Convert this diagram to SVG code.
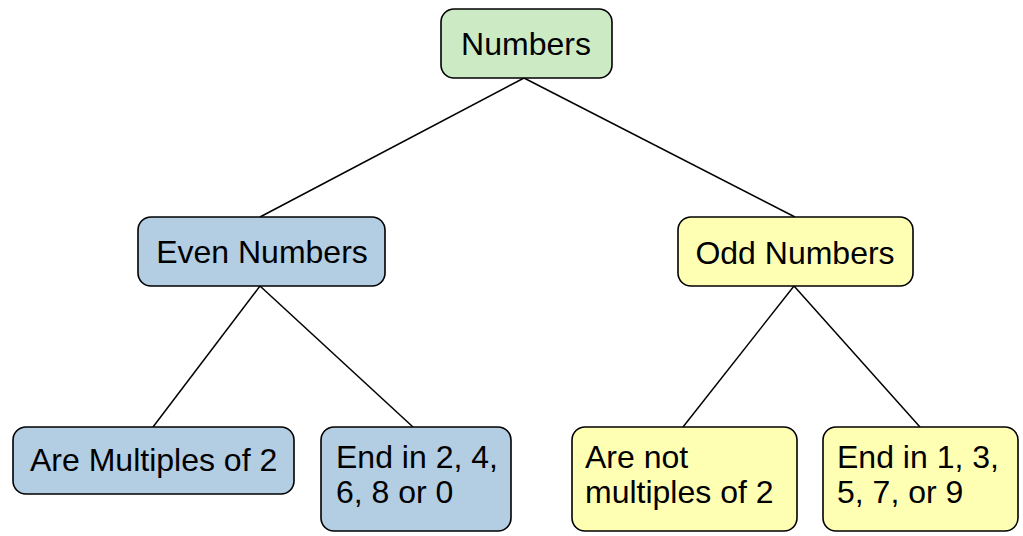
<svg xmlns="http://www.w3.org/2000/svg" width="1023" height="536" viewBox="0 0 1023 536">
<style>
.box{stroke:#000;stroke-width:1.6}
.g{fill:#ccebc5}.b{fill:#b3cde3}.y{fill:#ffffb3}
text{font-family:"Liberation Sans",Arial,sans-serif;font-size:32px;fill:#000}
.c{text-anchor:middle}
.conn line{stroke:#000;stroke-width:1.5}
</style>
<rect width="1023" height="536" fill="#fff"/>
<g class="conn">
<line x1="524" y1="78" x2="260" y2="217"/>
<line x1="524" y1="78" x2="795" y2="217"/>
<line x1="260" y1="286" x2="153" y2="427"/>
<line x1="260" y1="286" x2="413" y2="427"/>
<line x1="794" y1="286" x2="683" y2="427"/>
<line x1="794" y1="286" x2="920" y2="427"/>
</g>
<g id="numbers"><rect class="box g" x="441" y="9" width="171" height="69" rx="13"/><text class="c" x="526" y="55">Numbers</text></g>
<g id="even"><rect class="box b" x="138" y="217" width="247" height="69" rx="13"/><text class="c" x="262" y="263">Even Numbers</text></g>
<g id="odd"><rect class="box y" x="678" y="217" width="235" height="69" rx="13"/><text class="c" x="795" y="264">Odd Numbers</text></g>
<g id="multiples2"><rect class="box b" x="13" y="427" width="281" height="67" rx="13"/><text x="30" y="471">Are Multiples of 2</text></g>
<g id="end24"><rect class="box b" x="321" y="427" width="190" height="104" rx="13"/><text x="336" y="468">End in 2, 4,</text><text x="336" y="503">6, 8 or 0</text></g>
<g id="notmult"><rect class="box y" x="572" y="427" width="225" height="104" rx="13"/><text x="585" y="468">Are not</text><text x="585" y="503">multiples of 2</text></g>
<g id="end13"><rect class="box y" x="823" y="427" width="195" height="104" rx="13"/><text x="837" y="468">End in 1, 3,</text><text x="837" y="503">5, 7, or 9</text></g>
</svg>
